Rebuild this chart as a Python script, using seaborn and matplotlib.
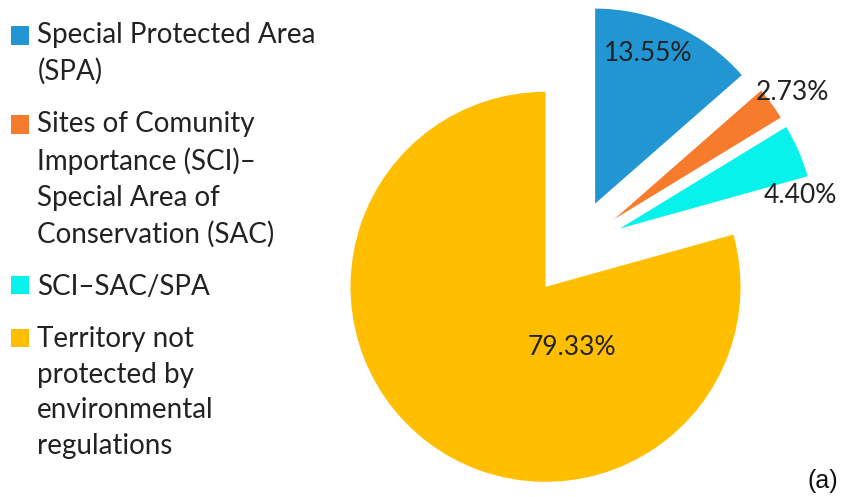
import numpy as np
import matplotlib
matplotlib.use('Agg')
import matplotlib.pyplot as plt
import seaborn as sns

# data
categories = ['Special Protected Area\n(SPA)',
              'Sites of Comunity\nImportance (SCI)\u2013\nSpecial Area of\nConservation (SAC)',
              'SCI\u2013SAC/SPA',
              'Territory not\nprotected by\nenvironmental\nregulations']
shares = [13.55, 2.73, 4.40, 79.33]
pct_labels = ['13.55%', '2.73%', '4.40%', '79.33%']
colors = ['#2196D3', '#F77B2C', '#08F2EC', '#FFBF00']

sns.set_theme(style='white')
plt.rcParams['font.family'] = ['Lato', 'DejaVu Sans']

fig = plt.figure(figsize=(8.54, 4.97), dpi=100)
ax = fig.add_axes([0, 0, 1, 1])

# pie geometry in pixels
R = 195
cx, cy = 575, 249
wedges, _ = ax.pie(shares, colors=colors, startangle=90, counterclock=False,
                   explode=[0.25 * R] * 4, radius=R, center=(cx, cy),
                   wedgeprops=dict(linewidth=0), frame=True)
ax.set_xlim(0, 854)
ax.set_ylim(0, 497)
ax.set_aspect('auto')
ax.axis('off')

# percentage labels: (radial distance, angle nudge in deg) from each wedge's own centre
lab_pos = [(0.815, 5), (1.12, -1), (0.94, -13), (0.34, 61)]
for w, txt, (d, nudge) in zip(wedges, pct_labels, lab_pos):
    mid = 0.5 * (w.theta1 + w.theta2) + nudge
    wx, wy = w.center
    ax.text(wx + d * R * np.cos(np.radians(mid)), wy + d * R * np.sin(np.radians(mid)),
            txt, ha='center', va='center', fontsize=19, color='#222222')

fs = 20
lsp = 1.47
leg = fig.legend(wedges, categories, loc='upper left', bbox_to_anchor=(0.003, 0.973),
                 frameon=False, fontsize=fs, handlelength=0.65, handleheight=0.65,
                 handletextpad=0.3, labelspacing=0.93, borderaxespad=0.0, borderpad=0.3)
for t in leg.get_texts():
    t.set_color('#222222')
    t.set_linespacing(lsp)
# move squares up to the first line of each label
pitch = 26.6
for h, lab in zip(leg.legend_handles, categories):
    n = lab.count('\n')
    h.set_y(h.get_y() + n * 0.5 * pitch)

fig.text(0.963, 0.032, '(a)', fontsize=18, family='Liberation Sans',
         ha='center', va='center', color='#111111')

fig.savefig('out.png', dpi=100)
